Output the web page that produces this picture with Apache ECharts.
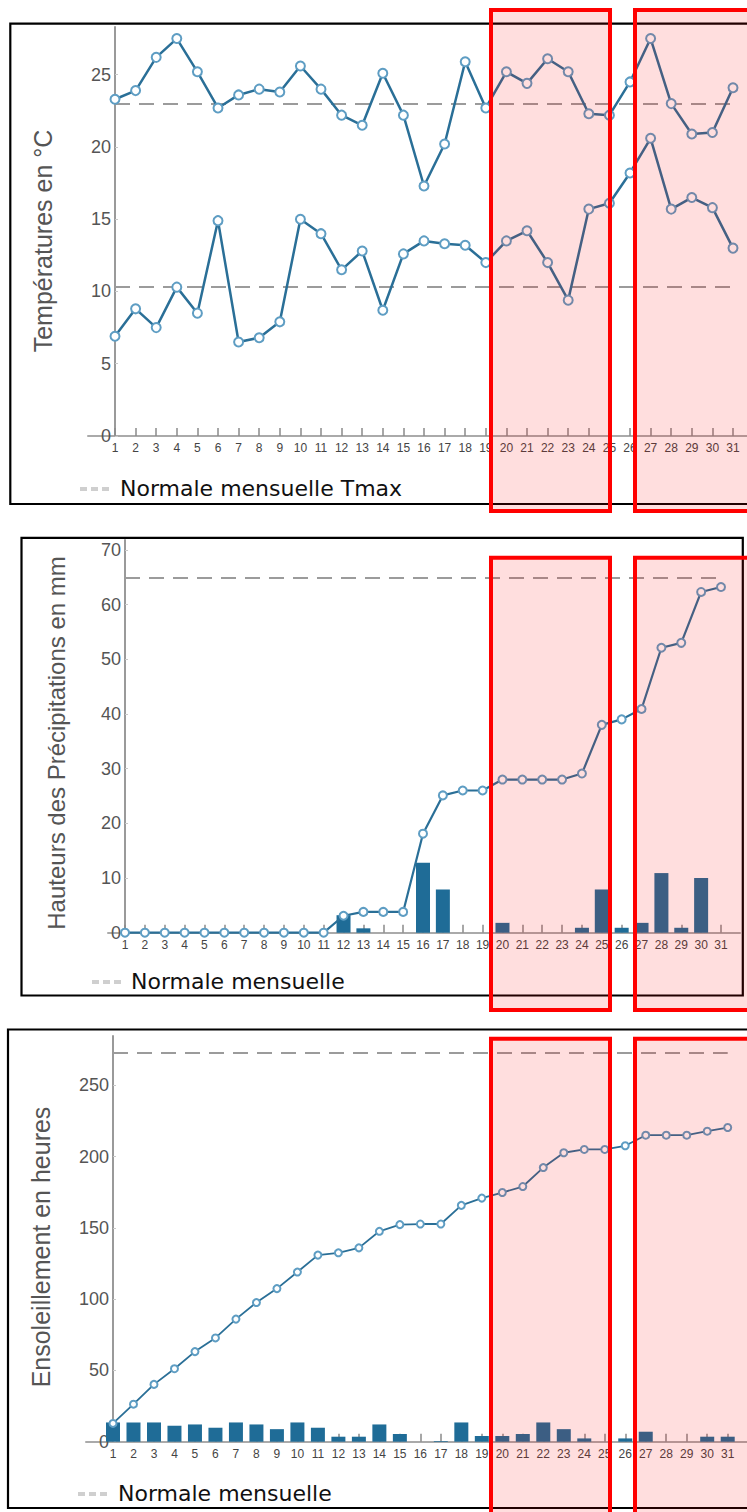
<!DOCTYPE html>
<html>
<head>
<meta charset="utf-8">
<script src="https://cdn.jsdelivr.net/npm/echarts@6/dist/echarts.min.js"></script>
<style>
  html, body { margin: 0; padding: 0; background: #fff; }
  #chart { width: 747px; height: 1512px; }
</style>
</head>
<body>
<div id="chart"></div>
<script>
// Day labels for the month
const days = ['1','2','3','4','5','6','7','8','9','10','11','12','13','14','15','16',
              '17','18','19','20','21','22','23','24','25','26','27','28','29','30','31'];

// Daily temperatures (°C)
const tmax = [23.3, 23.9, 26.2, 27.5, 25.2, 22.7, 23.6, 24.0, 23.8, 25.6, 24.0, 22.2, 21.5, 25.1, 22.2, 17.3,
              20.2, 25.9, 22.7, 25.2, 24.4, 26.1, 25.2, 22.3, 22.2, 24.5, 27.5, 23.0, 20.9, 21.0, 24.1];
const tmin = [6.9, 8.8, 7.5, 10.3, 8.5, 14.9, 6.5, 6.8, 7.9, 15.0, 14.0, 11.5, 12.8, 8.7, 12.6, 13.5,
              13.3, 13.2, 12.0, 13.5, 14.2, 12.0, 9.4, 15.7, 16.1, 18.2, 20.6, 15.7, 16.5, 15.8, 13.0];
const normalTmax = 23.0;
const normalTmin = 10.3;

// Precipitation (mm): daily amounts and running total
const rainDaily = [0, 0, 0, 0, 0, 0, 0, 0, 0, 0, 0, 3.2, 0.8, 0, 0, 12.8,
                   7.9, 0, 0, 1.8, 0, 0, 0, 0.9, 7.9, 0.9, 1.8, 10.9, 0.9, 10.0, 0];
const rainTotal = [0, 0, 0, 0, 0, 0, 0, 0, 0, 0, 0, 3.1, 3.8, 3.8, 3.8, 18.1,
                   25.1, 26.0, 26.0, 28.0, 28.0, 28.0, 28.0, 29.1, 38.0, 39.0, 40.9, 52.1, 53.0, 62.3, 63.2];
const normalRain = 64.9;

// Sunshine (hours): daily amounts and running total
const sunDaily = [13.5, 13.5, 13.5, 11.2, 12.1, 9.8, 13.5, 12.1, 8.8, 13.5, 9.8, 3.5, 3.5, 12.1, 5.4, 0,
                  0.5, 13.5, 4.0, 4.0, 5.4, 13.5, 8.8, 2.3, 0, 2.3, 7.0, 0, 0, 3.5, 3.5];
const sunTotal = [12.8, 26.3, 40.2, 51.2, 63.2, 72.8, 86.0, 97.6, 107.4, 119.0, 130.9, 132.5, 136.0, 147.6, 152.3, 152.7,
                  152.7, 165.8, 170.9, 174.8, 179.0, 192.3, 202.7, 205.0, 205.0, 207.6, 215.0, 215.0, 215.0, 217.8, 220.4];
const normalSun = 273;

// Axis titles and legend captions
const titleTemp = 'Températures en °C';
const titleRain = 'Hauteurs des Précipitations en mm';
const titleSun = 'Ensoleillement en heures';
const legendTemp = 'Normale mensuelle Tmax';
const legendOther = 'Normale mensuelle';

const FONT = '"Liberation Sans", Arial, Helvetica, sans-serif';
const LEGEND_FONT = '"DejaVu Sans", "Liberation Sans", sans-serif';
const LINE = '#2a6f97';
const MARK = '#5e9dc3';
const BAR = '#1f6c97';

function dayAxis(gridIndex) {
  return {
    type: 'category', gridIndex, data: days, boundaryGap: false,
    axisLine: { show: false },
    axisTick: { show: true, inside: true, length: 8, interval: 0, lineStyle: { color: '#8a8a8a', width: 1.5 } },
    axisLabel: { interval: 0, fontSize: 12, color: '#444', margin: 6, fontFamily: '"Liberation Sans Narrow", ' + FONT },
    splitLine: { show: false }
  };
}
// long baseline running past the plotted days
function baseAxis(gridIndex) {
  return {
    type: 'value', gridIndex, min: 0, max: 1,
    axisLine: { show: true, onZero: false, lineStyle: { color: '#aaa', width: 2 } },
    axisTick: { show: false }, axisLabel: { show: false }, splitLine: { show: false }
  };
}
function valueAxis(gridIndex, max, interval) {
  return {
    type: 'value', gridIndex, min: 0, max, interval,
    axisLine: { show: true, lineStyle: { color: '#9a9a9a', width: 2 } },
    axisTick: { show: true, inside: true, length: 3, lineStyle: { color: '#c8c8c8' } },
    axisLabel: { fontSize: 18, color: '#555', margin: 4, showMaxLabel: false, fontFamily: FONT },
    splitLine: { show: false }
  };
}
function hiddenAxis(gridIndex) {
  return { type: 'value', gridIndex, show: false, min: 0, max: 1 };
}
function normalLine(value) {
  return {
    silent: true, symbol: 'none', label: { show: false },
    lineStyle: { color: '#9b9b9b', width: 2, type: [15, 9] },
    emphasis: { disabled: true },
    data: [{ yAxis: value }]
  };
}
function lineSeries(name, data, axisIndex, width, size, norm) {
  return {
    name, type: 'line', data, xAxisIndex: axisIndex, yAxisIndex: axisIndex, clip: false,
    symbol: 'emptyCircle', symbolSize: size, z: 5,
    lineStyle: { color: LINE, width },
    itemStyle: { color: MARK, borderWidth: 1.5 },
    markLine: norm === undefined ? undefined : normalLine(norm)
  };
}
function barSeries(name, data, axisIndex) {
  return {
    name, type: 'bar', data, xAxisIndex: axisIndex, yAxisIndex: axisIndex, clip: false,
    barWidth: 14, itemStyle: { color: BAR }, z: 2
  };
}

function legendGroup(y, dashX, textX, text) {
  return [
    { type: 'line', shape: { x1: dashX, y1: y + 1, x2: dashX + 30, y2: y + 1 },
      style: { stroke: '#cfcfcf', lineWidth: 4, lineDash: [7, 4] } },
    { type: 'text', x: textX, y: y, style: { text, fontSize: 22, fontFamily: LEGEND_FONT,
      fill: '#111', align: 'left', verticalAlign: 'middle' } }
  ];
}
function yTitle(x, y, text, size) {
  return { type: 'text', x, y, rotation: Math.PI / 2,
    style: { text, fontSize: size, fontFamily: FONT, fill: '#555', align: 'center', verticalAlign: 'middle' } };
}
function frame(x, y, w, h) {
  return { type: 'rect', shape: { x, y, width: w, height: h }, z: 1,
    style: { fill: 'none', stroke: '#000', lineWidth: 2.2 } };
}
function highlight(x, y, w, h) {
  return { type: 'rect', shape: { x, y, width: w, height: h }, z: 200,
    style: { fill: 'rgba(255,0,0,0.13)', stroke: '#ff0000', lineWidth: 4 } };
}

const chart = echarts.init(document.getElementById('chart'), null, { renderer: 'svg' });

chart.setOption({
  animation: false,
  backgroundColor: '#fff',
  grid: [
    { left: 115, top: 27, width: 618, height: 409 },
    { left: 88, top: 27, width: 670, height: 409 },
    { left: 125, top: 540, width: 596, height: 392.7 },
    { left: 108, top: 540, width: 632, height: 392.7 },
    { left: 113, top: 1036, width: 614.7, height: 405.7 },
    { left: 86, top: 1036, width: 672, height: 405.7 }
  ],
  xAxis: [dayAxis(0), baseAxis(1), dayAxis(2), baseAxis(3), dayAxis(4), baseAxis(5)],
  yAxis: [valueAxis(0, 28.3, 5), hiddenAxis(1), valueAxis(2, 71.8, 10), hiddenAxis(3),
          valueAxis(4, 284.6, 50), hiddenAxis(5)],
  series: [
    lineSeries('Tmax', tmax, 0, 2.5, 9, normalTmax),
    lineSeries('Tmin', tmin, 0, 2.5, 9, normalTmin),
    barSeries('Précipitations quotidiennes', rainDaily, 2),
    lineSeries('Précipitations cumulées', rainTotal, 2, 2.2, 8, normalRain),
    barSeries('Ensoleillement quotidien', sunDaily, 4),
    lineSeries('Ensoleillement cumulé', sunTotal, 4, 1.8, 7, normalSun)
  ],
  graphic: [
    frame(10.3, 23.7, 760, 480.3),
    frame(21.5, 537.8, 721.3, 457.7),
    frame(8, 1029.5, 760, 478.5),
    yTitle(43, 241, titleTemp, 25),
    yTitle(56, 743, titleRain, 24),
    yTitle(41, 1247, titleSun, 25),
    ...legendGroup(488, 80, 120, legendTemp),
    ...legendGroup(981, 92, 131, legendOther),
    ...legendGroup(1493, 78, 118, legendOther),
    highlight(491, 10, 119, 501),
    highlight(635, 10, 140, 501),
    highlight(491, 557.7, 119, 452.3),
    highlight(635, 557.7, 140, 452.3),
    highlight(491, 1038.7, 119, 500),
    highlight(635, 1038.7, 140, 500)
  ]
});
</script>
</body>
</html>
